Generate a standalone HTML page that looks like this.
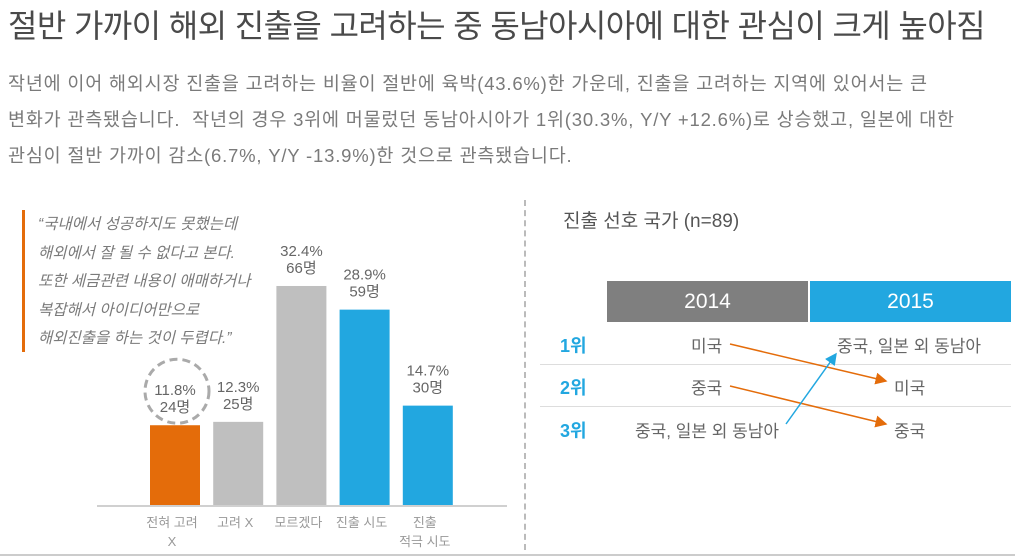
<!DOCTYPE html>
<html><head><meta charset="utf-8"><style>
body{margin:0;width:1015px;height:560px;background:#fff;overflow:hidden;font-family:"Liberation Sans","Noto Sans CJK KR",sans-serif;position:relative}
.a{position:absolute;white-space:nowrap}
</style></head><body>
<div class="a" style="left:8px;top:1px;font-size:32px;color:#4a4a4a;letter-spacing:-0.6px">절반 가까이 해외 진출을 고려하는 중 동남아시아에 대한 관심이 크게 높아짐</div>
<div class="a" style="left:8px;top:66px;font-size:18.5px;color:#7a7a7a;line-height:36px;letter-spacing:0.8px">작년에 이어 해외시장 진출을 고려하는 비율이 절반에 육박(43.6%)한 가운데, 진출을 고려하는 지역에 있어서는 큰<br>변화가 관측됐습니다.&nbsp; 작년의 경우 3위에 머물렀던 동남아시아가 1위(30.3%, Y/Y +12.6%)로 상승했고, 일본에 대한<br>관심이 절반 가까이 감소(6.7%, Y/Y -13.9%)한 것으로 관측됐습니다.</div>
<div class="a" style="left:22px;top:210px;width:3px;height:142px;background:#e46c0a"></div>
<div class="a" style="left:38px;top:211px;font-size:15.5px;font-style:italic;color:#7a7a7a;line-height:28.5px">“국내에서 성공하지도 못했는데<br>해외에서 잘 될 수 없다고 본다.<br>또한 세금관련 내용이 애매하거나<br>복잡해서 아이디어만으로<br>해외진출을 하는 것이 두렵다.”</div>
<div class="a" style="left:524px;top:200px;height:350px;border-left:2px dashed #bbb"></div>
<div class="a" style="left:0;top:554px;width:1015px;height:2px;background:#ccc"></div>
<svg class="a" style="left:0;top:0" width="1015" height="560" id="chart"></svg>
<div class="a" style="left:563px;top:206px;font-size:19px;color:#555">진출 선호 국가 (n=89)</div>
<div class="a" style="left:607px;top:281px;width:201px;height:41px;background:#7f7f7f;color:#fff;font-size:21px;text-align:center;line-height:41px">2014</div>
<div class="a" style="left:810px;top:281px;width:201px;height:41px;background:#22a7e0;color:#fff;font-size:21px;text-align:center;line-height:41px">2015</div>
<div class="a" style="left:540px;top:364px;width:471px;height:1px;background:#ddd"></div>
<div class="a" style="left:540px;top:406px;width:471px;height:1px;background:#ddd"></div>
<div class="a" style="left:560px;top:332px;font-size:18px;font-weight:bold;color:#22a7e0">1위</div>
<div class="a" style="left:560px;top:374px;font-size:18px;font-weight:bold;color:#22a7e0">2위</div>
<div class="a" style="left:560px;top:417px;font-size:18px;font-weight:bold;color:#22a7e0">3위</div>
<div class="a" style="left:691px;top:332px;font-size:17px;color:#666">미국</div>
<div class="a" style="left:691px;top:374px;font-size:17px;color:#666">중국</div>
<div class="a" style="left:635px;top:417px;font-size:17px;color:#666">중국, 일본 외 동남아</div>
<div class="a" style="left:837px;top:332px;font-size:17px;color:#666">중국, 일본 외 동남아</div>
<div class="a" style="left:894px;top:374px;font-size:17px;color:#666">미국</div>
<div class="a" style="left:894px;top:417px;font-size:17px;color:#666">중국</div>
<svg class="a" style="left:0;top:0" width="1015" height="560">
<defs><marker id="mo" markerWidth="8" markerHeight="8" refX="7" refY="4" orient="auto"><path d="M0,0L8,4L0,8z" fill="#e46c0a"/></marker>
<marker id="mb" markerWidth="8" markerHeight="8" refX="7" refY="4" orient="auto"><path d="M0,0L8,4L0,8z" fill="#22a7e0"/></marker></defs>
<line x1="730" y1="344" x2="886" y2="381" stroke="#e46c0a" stroke-width="1.5" marker-end="url(#mo)"/>
<line x1="730" y1="386" x2="886" y2="424" stroke="#e46c0a" stroke-width="1.5" marker-end="url(#mo)"/>
<line x1="786" y1="424" x2="836" y2="354" stroke="#22a7e0" stroke-width="1.5" marker-end="url(#mb)"/>
</svg>
<script>
const categories=["전혀 고려|X","고려 X","모르겠다","진출 시도","진출|적극 시도"];
const percents=[11.8,12.3,32.4,28.9,14.7];
const counts=[24,25,66,59,30];
const colors=["#e46c0a","#bfbfbf","#bfbfbf","#22a7e0","#22a7e0"];
const svg=document.getElementById('chart');
const NS="http://www.w3.org/2000/svg";
const baseY=505,scale=6.76,x0=150,step=63.2,bw=50;
const y=v=>baseY-v*scale;
const xOf=i=>x0+i*step;
function mk(t,a){const e=document.createElementNS(NS,t);for(const k in a)e.setAttribute(k,a[k]);svg.appendChild(e);return e;}
const ax=mk('line',{x1:97,y1:baseY+1,x2:507,y2:baseY+1,stroke:'#d0d0d0','stroke-width':2});


percents.forEach((v,i)=>{
  const r=mk('rect',{x:xOf(i),y:y(v),width:bw,height:v*scale,fill:colors[i]});
  
  
  const cx=xOf(i)+bw/2;
  const t1=mk('text',{x:cx,y:y(v)-30,'text-anchor':'middle','font-size':15,fill:'#666'});
  t1.textContent=v.toFixed(1)+'%';
  
  
  const t2=mk('text',{x:cx,y:y(v)-13,'text-anchor':'middle','font-size':15,fill:'#666'});
  t2.textContent=counts[i]+'명';
  
  
  if(i===0){
    const c=mk('circle',{cx:cx+2,cy:y(v)-34,r:32,fill:'none',stroke:'#aaa','stroke-width':3,'stroke-dasharray':'8 5'});
    
    
  }
  categories[i].split('|').forEach((s,j)=>{
    const l=mk('text',{x:cx-3,y:527+j*19,'text-anchor':'middle','font-size':13,fill:'#999'});
    l.textContent=s;
    
    
  });
});
</script>
</body></html>
